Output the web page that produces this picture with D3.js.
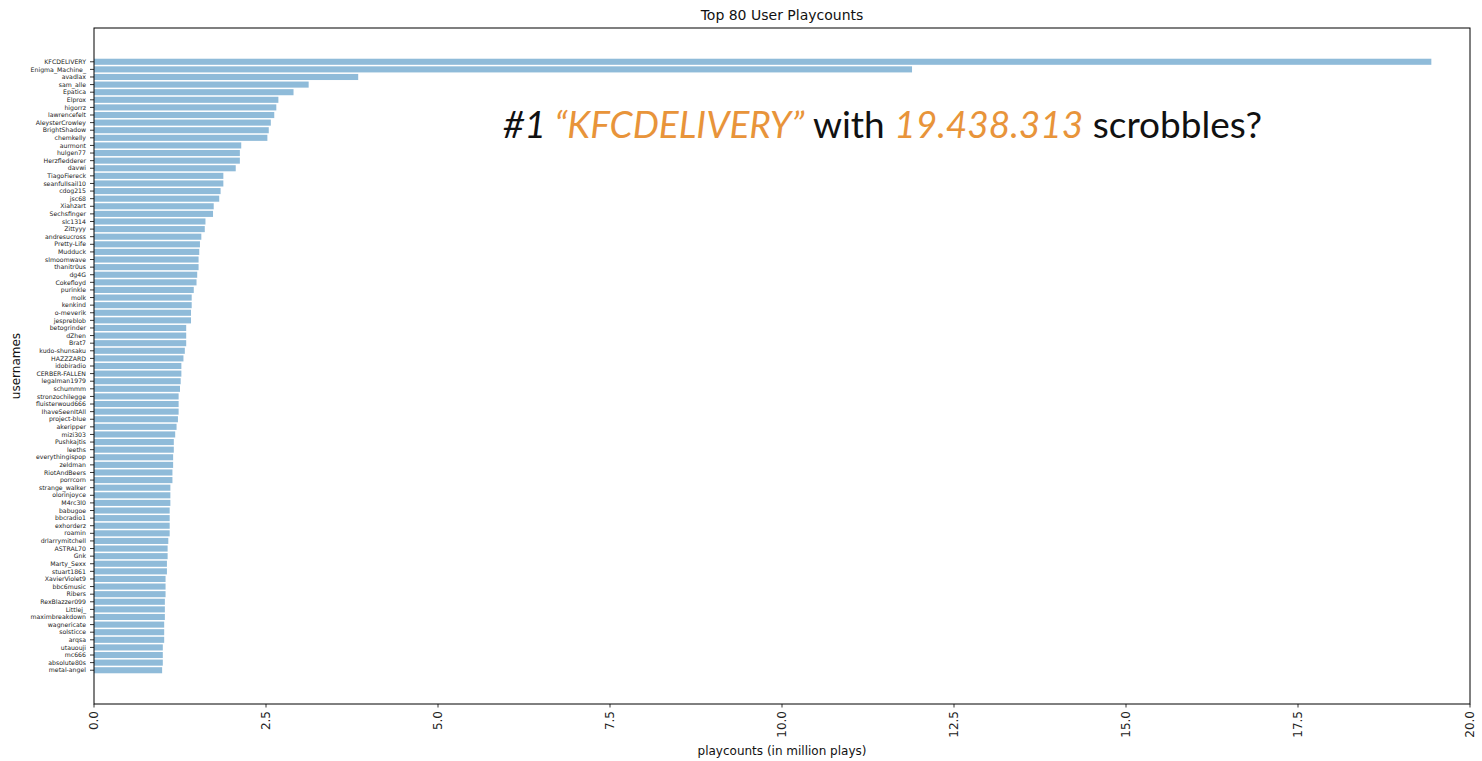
<!DOCTYPE html>
<html><head><meta charset="utf-8">
<script src="https://cdn.jsdelivr.net/npm/d3@7"></script>
<style>body{margin:0;background:#fff}svg{display:block}</style>
</head><body>
<svg id="chart" width="1482" height="761"></svg>
<script>
const usernames = ["KFCDELIVERY","Enigma_Machine_","avadlax","sam_alle","Epatica","Elprox","higorrz","lawrencefelt","AleysterCrowley","BrightShadow","chemkelly","aurmont","hulgen77","Herzfledderer","davwi","TiagoFiereck","seanfullsail10","cdog215","jsc68","Xiahzart","Sechsfinger","slc1314","Zittyyy","andresucross","Pretty-Life","Mudduck","slmoomwave","thanitr0us","dg4G","Cokefloyd","purinkle","molk","kenkind","o-meverik","jespreblob","betogrinder","dZhen","Brat7","kudo-shunsaku","HAZZZARD","idobiradio","CERBER-FALLEN","legalman1979","schummm","stronzochilegge","fluisterwoud666","IhaveSeenItAll","project-blue","akeripper","mizi303","Pushkajtis","leeths","everythingispop","zeldman","RiotAndBeers","porrcorn","strange_walker","olorinjoyce","M4rc3l0","babugoe","bbcradio1","exhorderz","roamin","drlarrymitchell","ASTRAL70","Gnk","Marty_Sexx","stuart1861","XavierViolet9","bbc6music","Ribers","RexBlazzer099","Littlej_","maximbreakdown","wagnericate","solsticce","arqsa","utauouji","mc666","absolute80s","metal-angel"];
const playcounts = [19.438,11.89,3.84,3.12,2.90,2.68,2.65,2.62,2.57,2.54,2.52,2.14,2.12,2.12,2.06,1.88,1.88,1.84,1.82,1.74,1.73,1.62,1.61,1.56,1.54,1.53,1.52,1.52,1.50,1.49,1.45,1.42,1.42,1.41,1.41,1.34,1.34,1.34,1.32,1.30,1.27,1.27,1.26,1.25,1.23,1.23,1.23,1.22,1.20,1.18,1.16,1.16,1.15,1.15,1.14,1.14,1.11,1.11,1.11,1.10,1.10,1.10,1.10,1.08,1.07,1.07,1.06,1.06,1.04,1.04,1.04,1.03,1.03,1.03,1.02,1.02,1.02,1.00,1.00,1.00,0.99];
const xTicks = [0,2.5,5,7.5,10,12.5,15,17.5,20];
const titleText = "Top 80 User Playcounts";
const xLabel = "playcounts (in million plays)";
const yLabel = "usernames";

const L = 94, R = 1470, T = 28, B = 704;
const svg = d3.select("#chart");
const n = usernames.length;
const x = d3.scaleLinear().domain([0,20]).range([L,R]);
// matplotlib-like: bar index i at position i, height 0.8, 5% margins
const lo = -0.4, hi = (n-1)+0.4, pad = (hi-lo)*0.05;
const y = d3.scaleLinear().domain([lo-pad, hi+pad]).range([T,B]);
const bh = y(0.8)-y(0);

svg.append("g").selectAll("rect").data(playcounts).join("rect")
  .attr("x", x(0))
  .attr("y", (d,i)=>y(i-0.4))
  .attr("width", d=>x(d)-x(0))
  .attr("height", bh)
  .attr("fill", "#1f77b4").attr("fill-opacity", 0.5);

// frame
svg.append("rect").attr("x",L).attr("y",T).attr("width",R-L).attr("height",B-T)
  .attr("fill","none").attr("stroke","#000").attr("stroke-width",1);

// y axis
const yAxis = svg.append("g").attr("transform",`translate(${L},0)`);
usernames.forEach((u,i)=>{
  yAxis.append("line").attr("x1",-4).attr("x2",0).attr("y1",y(i)).attr("y2",y(i)).attr("stroke","#000").attr("stroke-width",0.8);
  yAxis.append("text").attr("x",-8).attr("y",y(i)).attr("dy","0.35em")
    .attr("text-anchor","end").attr("font-family","DejaVu Sans").attr("font-size",6.2).attr("fill","#222").text(u);
});

// x axis
const xAxis = svg.append("g").attr("transform",`translate(0,${B})`);
xTicks.forEach(t=>{
  xAxis.append("line").attr("x1",x(t)).attr("x2",x(t)).attr("y1",0).attr("y2",3.5).attr("stroke","#000").attr("stroke-width",0.8);
  xAxis.append("text").attr("transform",`translate(${x(t)},${7}) rotate(-90)`)
    .attr("text-anchor","end").attr("dy","0.35em")
    .attr("font-family","DejaVu Sans").attr("font-size",12).attr("fill","#222").text(t.toFixed(1));
});

svg.append("text").attr("x",(L+R)/2).attr("y",20).attr("text-anchor","middle")
  .attr("font-family","DejaVu Sans").attr("font-size",14).attr("fill","#111").text(titleText);
svg.append("text").attr("x",(L+R)/2).attr("y",755).attr("text-anchor","middle")
  .attr("font-family","DejaVu Sans").attr("font-size",12).attr("fill","#111").text(xLabel);
svg.append("text").attr("transform",`translate(20,${(T+B)/2}) rotate(-90)`).attr("text-anchor","middle")
  .attr("font-family","DejaVu Sans").attr("font-size",12).attr("fill","#111").text(yLabel);

// annotation
const ann = svg.append("text").attr("x",503).attr("y",138)
  .attr("font-family","Lato").attr("font-size",37).attr("fill","#111");
ann.append("tspan").attr("font-style","italic").text("#1 ");
ann.append("tspan").attr("font-style","italic").attr("fill","#e8943a").text("\u201C" + usernames[0] + "\u201D");
ann.append("tspan").text(" with ");
ann.append("tspan").attr("font-style","italic").attr("fill","#e8943a").text("19.438.313");
ann.append("tspan").text(" scrobbles?");
</script>
</body></html>
